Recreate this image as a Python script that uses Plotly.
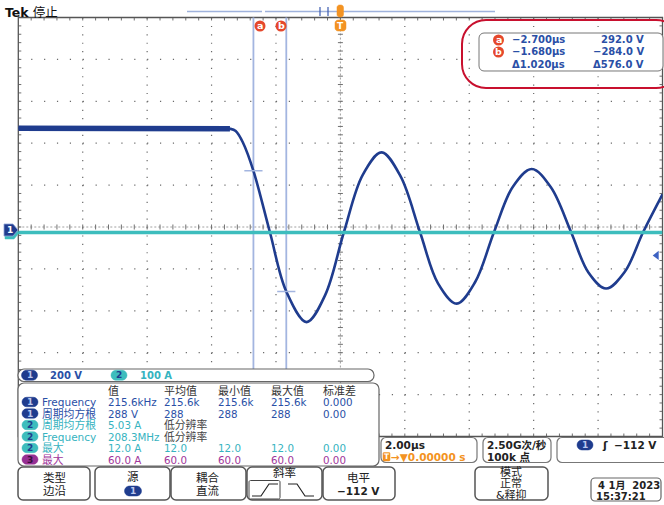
import plotly.graph_objects as go

W, H = 664, 505
FONT = "DejaVu Sans, Noto Sans CJK SC"

ch1_t_us = [-10.0, -3.60, -3.43, -3.25, -3.02, -2.70, -2.19, -1.68, -1.05, -0.47,
            0.11, 0.69, 1.28, 1.87, 2.47, 3.03, 3.61, 4.18, 4.77, 5.35,
            5.94, 6.54, 7.16, 7.70, 8.25, 8.83, 9.40, 10.0]
ch1_v = [495, 495, 493, 482, 425, 292, 0, -284, -430, -300,
         0, 272, 380, 265, 0, -245, -342, -240, 0, 215,
         301, 212, 0, -193, -270, -190, 0, 180]
ch2_t_us = [-10.0, 10.0]
ch2_a = [-1.0, -1.0]

cursor_t_us = [-2.700, -1.680]
cursor_v = [292.0, -284.0]
cursor_names = ["a", "b"]
trigger_level_v = -112

ch_nums = ["1", "2"]
ch_scales = ["200 V", "100 A"]

meas_headers = ["值", "平均值", "最小值", "最大值", "标准差"]
meas_src = ["1", "1", "2", "2", "2", "3"]
meas_name = ["Frequency", "周期均方根", "周期均方根", "Frequency", "最大", "最大"]
meas_val = ["215.6kHz", "288 V", "5.03 A", "208.3MHz", "12.0 A", "60.0 A"]
meas_mean = ["215.6k", "288", "低分辨率", "低分辨率", "12.0", "60.0"]
meas_min = ["215.6k", "288", "", "", "12.0", "60.0"]
meas_max = ["215.6k", "288", "", "", "12.0", "60.0"]
meas_std = ["0.000", "0.00", "", "", "0.00", "0.00"]

timebase = "2.00µs"
trig_pos = "→▼0.00000 s"
sample_rate = "2.50G次/秒"
record_len = "100k 点"
date_str = "4 1月  2023"
time_str = "15:37:21"

# ---------------- geometry ----------------
GL, GR, GT, GB = 18.3, 662.5, 17.5, 436.5
XD = (GR - GL) / 10
YD = (GB - GT) / 10
ZERO_PX = 232.0
V_PER_PX = 200 / YD
vtop = (ZERO_PX - GT) * V_PER_PX
vbot = -(GB - ZERO_PX) * V_PER_PX

C1 = "#1f3c8e"
C1T = "#2a4fa6"
C2 = "#3dbdbd"
C2T = "#36b3c0"
C3 = "#962f93"
ORANGE = "#f39322"
CURRED = "#e5482c"
CURBLUE = "#a3b5e0"
BORDER = "#666666"


def px(x):
    return x / W


def py(y):
    return 1 - y / H


def P(x, y):
    return f"{px(x):.5f},{py(y):.5f}"


def rr(x0, y0, x1, y1, r):
    k = 0.5523 * r
    return (f"M{P(x0 + r, y0)} L{P(x1 - r, y0)} "
            f"C{P(x1 - r + k, y0)} {P(x1, y0 + r - k)} {P(x1, y0 + r)} "
            f"L{P(x1, y1 - r)} C{P(x1, y1 - r + k)} {P(x1 - r + k, y1)} {P(x1 - r, y1)} "
            f"L{P(x0 + r, y1)} C{P(x0 + r - k, y1)} {P(x0, y1 - r + k)} {P(x0, y1 - r)} "
            f"L{P(x0, y0 + r)} C{P(x0, y0 + r - k)} {P(x0 + r - k, y0)} {P(x0 + r, y0)} Z")


shapes = []
annots = []


def pshape(path, fill="white", line="#666", lw=1.0, layer="above"):
    shapes.append(dict(type="path", path=path, xref="paper", yref="paper",
                       fillcolor=fill, line=dict(color=line, width=lw), layer=layer))


def seg(x0, y0, x1, y1, color, width=1.0, dash="solid", layer="below"):
    shapes.append(dict(type="line", xref="paper", yref="paper",
                       x0=px(x0), y0=py(y0), x1=px(x1), y1=py(y1),
                       line=dict(color=color, width=width, dash=dash), layer=layer))


def txt(x, y, s, color="#222", size=11, anchor="left", family=FONT):
    annots.append(dict(x=px(x), y=py(y), xref="paper", yref="paper", text=s,
                       showarrow=False, xanchor=anchor, yanchor="middle",
                       borderpad=0, font=dict(size=size, color=color, family=family)))


def circ(xc, yc, r, fill):
    shapes.append(dict(type="circle", xref="paper", yref="paper",
                       x0=px(xc - r), y0=py(yc + r), x1=px(xc + r), y1=py(yc - r),
                       fillcolor=fill, line=dict(width=0), layer="above"))


def pill(xc, yc, label, fill, tcolor, w=16, h=10):
    pshape(rr(xc - w / 2, yc - h / 2, xc + w / 2, yc + h / 2, h / 2), fill=fill, line=fill, lw=0.5)
    txt(xc, yc, f"<b>{label}</b>", tcolor, 9, "center")


# ---------------- graticule ----------------
for k in range(1, 10):
    if k == 5:
        continue
    y = GT + k * YD
    seg(GL, y, GR, y, "#6a6a6a", 1.2, f"1.2px,{XD / 5 - 1.2:.2f}px")
    x = GL + k * XD
    seg(x, GT, x, GB, "#6a6a6a", 1.2, f"1.2px,{YD / 5 - 1.2:.2f}px")

CY = GT + 5 * YD
CX = GL + 5 * XD
seg(GL, CY, GR, CY, "#a0a0a0", 1, "2px,2px")
seg(CX, GT, CX, GB, "#a0a0a0", 1, "2px,2px")

tick = []
for i in range(1, 50):
    x = GL + i * XD / 5
    tick.append(f"M{P(x, CY - 2.5)} L{P(x, CY + 2.5)}")
    tick.append(f"M{P(x, GT)} L{P(x, GT + 3)}")
    tick.append(f"M{P(x, GB)} L{P(x, GB - 3)}")
    y = GT + i * YD / 5
    tick.append(f"M{P(CX - 2.5, y)} L{P(CX + 2.5, y)}")
    tick.append(f"M{P(GL, y)} L{P(GL + 3, y)}")
    tick.append(f"M{P(GR, y)} L{P(GR - 3, y)}")
shapes.append(dict(type="path", path=" ".join(tick), xref="paper", yref="paper",
                   line=dict(color="#707070", width=1), layer="below"))
shapes.append(dict(type="rect", xref="paper", yref="paper", x0=px(GL), y0=py(GB),
                   x1=px(GR), y1=py(GT), line=dict(color="#555", width=1.3), layer="below"))

# cursor lines
for t in cursor_t_us:
    shapes.append(dict(type="line", xref="x", yref="paper", x0=t, x1=t,
                       y0=py(369), y1=py(GT), line=dict(color=CURBLUE, width=1.8), layer="below"))

# ---------------- traces ----------------
fig = go.Figure()
fig.add_trace(go.Scatter(x=ch2_t_us, y=ch2_a, mode="lines", yaxis="y2",
                         line=dict(color=C2, width=3.5), hoverinfo="skip"))
fig.add_trace(go.Scatter(x=ch1_t_us[:3], y=ch1_v[:3], mode="lines",
                         line=dict(color=C1, width=5.5), hoverinfo="skip"))
fig.add_trace(go.Scatter(x=ch1_t_us, y=ch1_v, mode="lines",
                         line=dict(color=C1, width=2.6, shape="spline", smoothing=1.0),
                         hoverinfo="skip"))
fig.add_trace(go.Scatter(x=cursor_t_us, y=cursor_v, mode="markers",
                         marker=dict(symbol="line-ew-open", size=13, color=CURBLUE,
                                     line=dict(color=CURBLUE, width=1.5)),
                         hoverinfo="skip"))
fig.add_trace(go.Scatter(x=[9.82], y=[trigger_level_v], mode="markers", cliponaxis=False,
                         marker=dict(symbol="triangle-left", size=8, color="#3d62c2"),
                         hoverinfo="skip"))

# ---------------- top area ----------------
txt(4, 12, "<b>Tek</b> 停止", "#111", 12.5)
seg(187, 11.5, 262, 11.5, "#9fb2dc", 1.3, layer="above")
seg(265, 11.5, 495, 11.5, "#9fb2dc", 1.3, layer="above")
seg(320, 7, 320, 16, "#3b5bb0", 1.2, layer="above")
seg(328, 7, 328, 16, "#3b5bb0", 1.2, layer="above")
pshape(rr(337, 5, 343.5, 17, 2.5), fill=ORANGE, line=ORANGE, lw=0.5)
pshape(rr(335, 20, 346, 31, 3), fill=ORANGE, line=ORANGE, lw=0.5)
txt(340.5, 25.8, "<b>T</b>", "white", 9, "center")

for xc, nm in zip([260, 281], cursor_names):
    circ(xc, 26, 5.5, CURRED)
    txt(xc, 25.8, f"<b>{nm}</b>", "white", 9.5, "center")

# channel ground markers (left)
pshape(f"M{P(5, 227)} L{P(14, 227)} L{P(19, 233)} L{P(14, 239)} L{P(5, 239)} Z",
       fill=C2, line=C2, lw=0.5)
pshape(f"M{P(4, 224)} L{P(13, 224)} L{P(18, 230)} L{P(13, 236)} L{P(4, 236)} Z",
       fill=C1, line="#8fa3d8", lw=0.8)
txt(10, 230, "<b>1</b>", "white", 9, "center")

# cursor readout
pshape(rr(462, 20, 680, 88, 24), fill="rgba(0,0,0,0)", line="#c8102e", lw=2)
pshape(rr(479, 33, 663, 71, 5), fill="white", line="#777", lw=1)
ys = [40, 52, 64]
for i in range(2):
    circ(498.5, ys[i], 5.5, CURRED)
    txt(498.5, ys[i], f"<b>{cursor_names[i]}</b>", "white", 9.5, "center")
    txt(566, ys[i], f"<b>{cursor_t_us[i]:.3f}µs</b>".replace("-", "−"), C1T, 10, "right")
    txt(645, ys[i], f"<b>{cursor_v[i]:.1f} V</b>".replace("-", "−"), C1T, 10, "right")
txt(566, ys[2], f"<b>Δ{abs(cursor_t_us[1] - cursor_t_us[0]):.3f}µs</b>", C1T, 10, "right")
txt(645, ys[2], f"<b>Δ{abs(cursor_v[1] - cursor_v[0]):.1f} V</b>", C1T, 10, "right")

# ---------------- bottom-left panels ----------------
pshape(rr(18, 383, 379, 466, 6), fill="white", line=BORDER, lw=1.2)
pshape(rr(18, 369, 374, 381.5, 6), fill="white", line=BORDER, lw=1.2)
pill(29.5, 375.2, ch_nums[0], C1, "#b9c6ee")
txt(49, 375.2, f"<b>{ch_scales[0]}</b>", C1T, 10)
pill(119, 375.2, ch_nums[1], C2, C1)
txt(139, 375.2, f"<b>{ch_scales[1]}</b>", C2T, 10)

colx = [107, 163, 217, 270, 322]
for x, hdr in zip(colx, meas_headers):
    txt(x, 391, hdr, "#333", 11)
rowy = [402, 413.5, 425, 436.5, 448, 459.5]
src_fill = {"1": (C1, "#b9c6ee", C1T), "2": (C2, C1, C2T), "3": (C3, "#3a1040", "#a1369b")}
for i in range(6):
    fill, tc, col = src_fill[meas_src[i]]
    pill(30, rowy[i], meas_src[i], fill, tc, 16, 9.5)
    if meas_name[i] == "Frequency":
        txt(41, rowy[i], meas_name[i], col, 10.5)
    else:
        txt(41, rowy[i], meas_name[i], col, 10.8)
    cells = [meas_val[i], meas_mean[i], meas_min[i], meas_max[i], meas_std[i]]
    for x, c in zip(colx, cells):
        if not c:
            continue
        if c == "低分辨率":
            txt(x, rowy[i], c, "#444", 10.8)
        else:
            txt(x, rowy[i], c, col, 10.3)

# ---------------- buttons ----------------
for x0, x1 in [(18, 90), (95, 170), (171, 246), (247, 322), (323, 395), (475, 548)]:
    pshape(rr(x0, 467, x1, 500, 5), fill="white", line="#555", lw=1.5)
txt(54, 478, "类型", "#222", 11.5, "center")
txt(54, 491, "边沿", "#222", 11.5, "center")
txt(133, 477, "源", "#222", 11.5, "center")
pill(133, 491, "1", C1, "#b9c6ee", 17, 10)
txt(208, 478, "耦合", "#222", 11.5, "center")
txt(208, 491, "直流", "#222", 11.5, "center")
txt(284, 473, "斜率", "#222", 11.5, "center")
pshape(rr(249, 480.5, 280, 499, 1.5), fill="white", line="#444", lw=1)
shapes.append(dict(type="path", xref="paper", yref="paper", layer="above",
                   path=f"M{P(252, 496)} L{P(261, 496)} L{P(269, 484)} L{P(278, 484)}",
                   line=dict(color="#222", width=1.2)))
shapes.append(dict(type="path", xref="paper", yref="paper", layer="above",
                   path=f"M{P(288, 484)} L{P(297, 484)} L{P(305, 496)} L{P(314, 496)}",
                   line=dict(color="#222", width=1.2)))
txt(358, 478, "电平", "#222", 11.5, "center")
txt(358, 491, f"<b>{trigger_level_v} V</b>".replace("-", "−"), "#222", 10.5, "center")
txt(511, 472, "模式", "#222", 11, "center")
txt(511, 483.5, "正常", "#222", 11, "center")
txt(511, 495, "&释抑", "#222", 11, "center")

pshape(rr(591, 478, 661, 501, 4), fill="white", line="#666", lw=1.2)
txt(597, 485, f"<b>{date_str}</b>", "#222", 10)
txt(595, 496.5, f"<b>{time_str}</b>", "#222", 10)

# horizontal / acquisition / trigger info boxes
pshape(rr(381, 437.5, 477, 462.5, 5), fill="white", line="#777", lw=1.2)
pshape(rr(483, 437.5, 551, 462.5, 5), fill="white", line="#777", lw=1.2)
pshape(rr(557, 437.5, 672, 462.5, 5), fill="white", line="#777", lw=1.2)
txt(384, 445, f"<b>{timebase}</b>", "#222", 10.5)
pshape(rr(383, 452.5, 390, 461, 1), fill=ORANGE, line=ORANGE, lw=0.5)
txt(386.5, 456.8, "<b>T</b>", "white", 7.5, "center")
txt(390, 456.8, f"<b>{trig_pos}</b>", ORANGE, 10.5)
txt(486, 445, f"<b>{sample_rate}</b>", "#222", 10.5)
txt(486, 456.8, f"<b>{record_len}</b>", "#222", 10.5)
pill(585, 445, ch_nums[0], C1, "#b9c6ee", 16, 10)
txt(605, 445, "<b>ʃ</b>", "#222", 11, "center")
txt(658, 445, f"<b>{trigger_level_v} V</b>".replace("-", "−"), "#222", 10.5, "right")

fig.update_layout(
    width=W, height=H, margin=dict(l=0, r=0, t=0, b=0),
    paper_bgcolor="white", plot_bgcolor="rgba(0,0,0,0)",
    showlegend=False, shapes=shapes, annotations=annots,
    xaxis=dict(domain=[px(GL), px(GR)], range=[-10, 10], visible=False, fixedrange=True),
    yaxis=dict(domain=[py(GB), py(GT)], range=[vbot, vtop], visible=False, fixedrange=True),
    yaxis2=dict(overlaying="y", range=[vbot / 2, vtop / 2], visible=False, fixedrange=True),
    font=dict(family=FONT),
)
fig.write_html("out.html", config={"displayModeBar": False},
               post_script="document.body.style.margin='0';")
